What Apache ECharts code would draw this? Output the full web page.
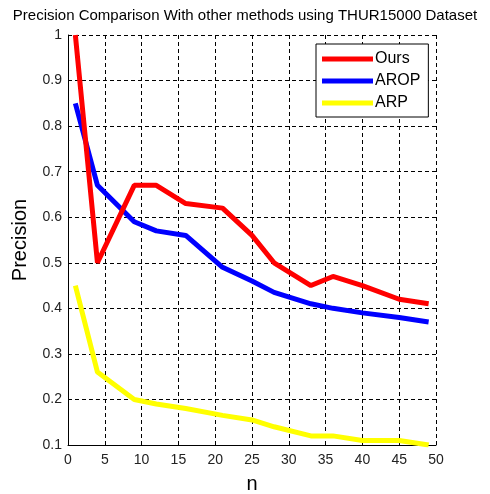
<!DOCTYPE html>
<html>
<head>
<meta charset="utf-8">
<script src="https://cdn.jsdelivr.net/npm/echarts@6/dist/echarts.min.js"></script>
<style>
  html, body { margin: 0; padding: 0; background: #fff; }
  #main { width: 490px; height: 494px; }
</style>
</head>
<body>
<div id="main"></div>
<script>
// n values (x axis) shared by all three methods
var nValues = [1, 4, 9, 12, 16, 21, 25, 28, 33, 36, 40, 45, 49];
var oursData = [1.0, 0.5, 0.67, 0.67, 0.63, 0.62, 0.56, 0.50, 0.45, 0.47, 0.45, 0.42, 0.41];
var aropData = [0.85, 0.67, 0.59, 0.57, 0.56, 0.49, 0.46, 0.435, 0.41, 0.40, 0.39, 0.38, 0.37];
var arpData = [0.45, 0.26, 0.20, 0.19, 0.18, 0.165, 0.155, 0.14, 0.12, 0.12, 0.11, 0.11, 0.10];
var seriesNames = ["Ours", "AROP", "ARP"];
var seriesColors = ["#ff0000", "#0000ff", "#ffff00"];

function pairs(ys) {
  return nValues.map(function (x, i) { return [x, ys[i]]; });
}

var font = "Liberation Sans, Arial, sans-serif";
var chart = echarts.init(document.getElementById("main"));

var dashed = { show: true, lineStyle: { color: "#000", type: [4, 3], width: 1 } };

chart.setOption({
  animation: false,
  title: {
    text: "Precision Comparison With other methods using THUR15000 Dataset",
    left: "center",
    top: 3,
    textStyle: { fontFamily: font, fontSize: 15, fontWeight: "normal", color: "#000" }
  },
  legend: {
    orient: "vertical",
    left: 316,
    top: 44,
    backgroundColor: "#fff",
    borderColor: "#000",
    borderWidth: 1,
    padding: [7, 8, 6, 6],
    itemGap: 6,
    itemWidth: 51,
    itemHeight: 5,
    icon: "rect",
    textStyle: { fontFamily: font, fontSize: 16, color: "#000", padding: [0, 0, 0, -3] },
    data: seriesNames
  },
  grid: { left: 68, right: 54, top: 35, bottom: 49, outerBoundsMode: "none" },
  xAxis: {
    type: "value",
    min: 0, max: 50, interval: 5,
    name: "n",
    nameLocation: "middle",
    nameGap: 29,
    nameTextStyle: { fontFamily: font, fontSize: 20, color: "#000" },
    axisLine: { lineStyle: { color: "#000", width: 1 } },
    axisTick: { inside: true, length: 4, lineStyle: { color: "#000" } },
    axisLabel: { fontFamily: font, fontSize: 14, color: "#222", margin: 8 },
    splitLine: dashed
  },
  yAxis: {
    type: "value",
    min: 0.1, max: 1, interval: 0.1,
    name: "Precision",
    nameLocation: "middle",
    nameGap: 38,
    nameTextStyle: { fontFamily: font, fontSize: 20, color: "#000" },
    axisLine: { show: true, lineStyle: { color: "#000", width: 1 } },
    axisTick: { show: true, inside: true, length: 4, lineStyle: { color: "#000" } },
    axisLabel: {
      fontFamily: font, fontSize: 14, color: "#222", margin: 6,
      formatter: function (v) { return parseFloat(v.toFixed(1)).toString(); }
    },
    splitLine: dashed
  },
  series: [oursData, aropData, arpData].map(function (d, i) {
    return {
      name: seriesNames[i],
      type: "line",
      data: pairs(d),
      symbol: "none",
      color: seriesColors[i],
      lineStyle: { width: 5, color: seriesColors[i] },
      z: 10 - i
    };
  })
});
</script>
</body>
</html>
